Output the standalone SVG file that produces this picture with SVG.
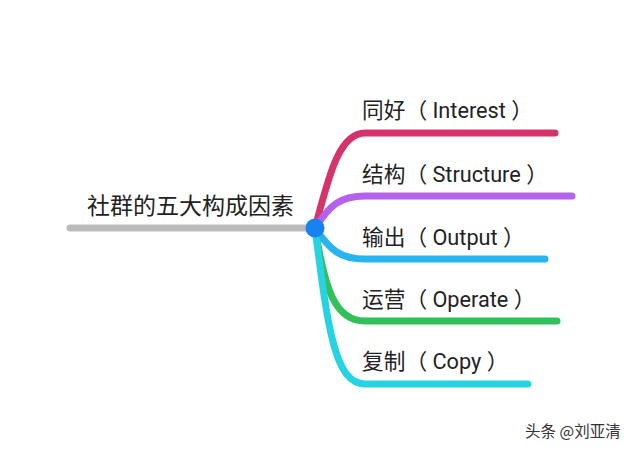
<svg xmlns="http://www.w3.org/2000/svg" width="640" height="455" viewBox="0 0 640 455">
<style>
.br{fill:none;stroke-width:7;stroke-linecap:round;stroke-linejoin:round}
.t{font-family:Roboto,"Noto Sans CJK SC",sans-serif;font-size:21.7px;fill:#222}
.title{font-family:"Noto Sans CJK SC",sans-serif;font-size:23px;fill:#222}
.wm{font-family:"Noto Sans CJK SC",sans-serif;font-size:15.5px;fill:#333}
</style>
<rect width="640" height="455" fill="#ffffff"/>
<g id="connectors">
<path class="br" stroke="#bbbbbb" d="M70,228 L315,228"/>
<path class="br" stroke="#d6336a" d="M315,228 C328,180 338,133 365,133 L555,133"/>
<path class="br" stroke="#b660ee" d="M315,228 C330,205 340,196 365,196 L572,196"/>
<path class="br" stroke="#29b3f0" d="M315,228 C330,250 340,259 365,259 L545,259"/>
<path class="br" stroke="#32c05a" d="M315,228 C325,290 335,321 365,321 L557,321"/>
<path class="br" stroke="#26d3e3" d="M315,228 C328,330 335,384 365,384 L528,384"/>
</g>
<g id="root">
<text class="title" x="87" y="214">社群的五大构成因素</text>
<circle cx="315" cy="228" r="9.5" fill="#1683f0"/>
</g>
<g id="n1"><text class="t" x="362" y="118">同好（ Interest ）</text></g>
<g id="n2"><text class="t" x="362" y="182">结构（ Structure ）</text></g>
<g id="n3"><text class="t" x="362" y="245">输出（ Output ）</text></g>
<g id="n4"><text class="t" x="362" y="307">运营（ Operate ）</text></g>
<g id="n5"><text class="t" x="362" y="369">复制（ Copy ）</text></g>
<text class="wm" x="525" y="437">头条 @刘亚清</text>
</svg>
